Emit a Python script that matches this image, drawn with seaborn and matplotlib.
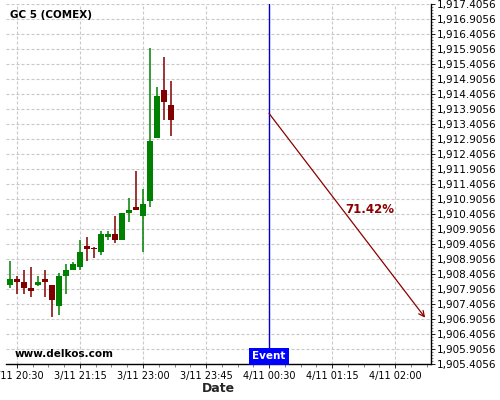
import matplotlib
matplotlib.use("Agg")
import matplotlib.pyplot as plt
import matplotlib.transforms as mtransforms
from matplotlib.ticker import FuncFormatter, FixedLocator, MultipleLocator
import seaborn as sns
import numpy as np
import pandas as pd

# ---- data -------------------------------------------------------------
times = ["3/11 20:25", "3/11 20:30", "3/11 20:35", "3/11 20:40", "3/11 20:45",
         "3/11 20:50", "3/11 20:55", "3/11 21:00", "3/11 21:05", "3/11 21:10",
         "3/11 21:15", "3/11 21:20", "3/11 21:25", "3/11 22:20", "3/11 22:25",
         "3/11 22:30", "3/11 22:35", "3/11 22:40", "3/11 22:45", "3/11 23:00",
         "3/11 23:05", "3/11 23:10", "3/11 23:15", "3/11 23:20"]
opens  = [1908.05, 1908.24, 1908.14, 1907.95, 1908.05, 1908.24, 1908.04, 1907.35,
          1908.35, 1908.55, 1908.65, 1909.34, 1909.27, 1909.15, 1909.64, 1909.74,
          1909.54, 1910.44, 1910.64, 1910.35, 1910.84, 1912.95, 1914.54, 1914.04]
highs  = [1908.84, 1908.33, 1908.54, 1908.63, 1908.33, 1908.53, 1908.04, 1908.43,
          1908.73, 1908.82, 1909.53, 1909.63, 1909.32, 1909.84, 1909.84, 1910.34,
          1910.44, 1910.94, 1911.83, 1911.23, 1915.93, 1914.63, 1915.63, 1914.83]
lows   = [1907.93, 1907.73, 1907.73, 1907.63, 1908.02, 1907.63, 1906.97, 1907.04,
          1907.73, 1908.54, 1908.54, 1908.83, 1908.93, 1909.03, 1909.54, 1909.44,
          1909.54, 1910.13, 1910.54, 1909.14, 1910.65, 1912.95, 1913.53, 1913.02]
closes = [1908.24, 1908.15, 1907.95, 1907.85, 1908.14, 1908.15, 1907.55, 1908.34,
          1908.54, 1908.74, 1909.14, 1909.25, 1909.24, 1909.74, 1909.74, 1909.54,
          1910.44, 1910.54, 1910.54, 1910.74, 1912.84, 1914.34, 1914.15, 1913.55]

tick_positions = [1, 10, 19, 28, 37, 46, 55]
tick_labels = ["3/11 20:30", "3/11 21:15", "3/11 23:00", "3/11 23:45",
               "4/11 00:30", "4/11 01:15", "4/11 02:00"]

event_index = 37
arrow_start = (37, 1913.76)
arrow_end = (59.3, 1906.95)
prob_label = "71.42%"
prob_pos = (51.4, 1910.57)

y_min, y_max = 1905.4056, 1917.4056

df = pd.DataFrame({"time": times, "open": opens, "high": highs,
                   "low": lows, "close": closes})
df["idx"] = np.arange(len(df))

# ---- style ------------------------------------------------------------
sns.set_theme(style="white")
plt.rcParams["font.family"] = ["DejaVu Sans"]

GREEN = "#008000"
RED = "#800000"

fig = plt.figure(figsize=(5, 4), dpi=100)
ax = fig.add_axes([0.012, 0.09, 0.85, 0.90])

# wicks
up = df["close"] >= df["open"]
df["color"] = np.where(up, GREEN, RED)
ax.vlines(df["idx"], df["low"], df["high"], colors=df["color"], lw=1.1, zorder=3)
# bodies
body_bottom = df[["open", "close"]].min(axis=1)
body_h = (df["close"] - df["open"]).abs().clip(lower=0.03)
ax.bar(df["idx"], body_h, bottom=body_bottom, width=0.72,
       color=df["color"], linewidth=0, zorder=4)

# axes limits
ax.set_xlim(-0.57, 60.14)
ax.set_ylim(y_min, y_max)

# y axis on the right
ax.yaxis.tick_right()
ax.yaxis.set_major_locator(FixedLocator(np.arange(y_min, y_max + 0.01, 0.5)))
ax.yaxis.set_minor_locator(FixedLocator(np.arange(y_min, y_max + 0.01, 0.1)))
ax.yaxis.set_major_formatter(FuncFormatter(lambda v, p: f"{v:,.4f}"))
ax.tick_params(axis="y", which="major", direction="out", length=3, width=0.6,
               labelsize=7.5, pad=1, colors="black", right=True, left=False)
ax.tick_params(axis="y", which="minor", direction="out", length=1.5, width=0.5,
               right=True, left=False, colors="#555555")

# x axis
ax.xaxis.set_major_locator(FixedLocator(tick_positions))
ax.set_xticklabels(tick_labels)
ax.xaxis.set_minor_locator(FixedLocator(np.arange(1, 61, 2.25)))
ax.tick_params(axis="x", which="major", direction="out", length=3, width=0.6,
               labelsize=7, pad=2, colors="black", bottom=True)
ax.tick_params(axis="x", which="minor", direction="out", length=2, width=0.5,
               bottom=True, colors="#555555")
ax.set_xlabel("Date", fontsize=9, fontweight="bold", labelpad=1)
ax.set_ylabel("")

# spines
for s in ["left", "top"]:
    ax.spines[s].set_visible(False)
for s in ["right", "bottom"]:
    ax.spines[s].set_visible(True)
    ax.spines[s].set_color("black")
    ax.spines[s].set_linewidth(1.0)

# grid
ax.grid(True, which="major", axis="both", color="#c8c8c8",
        linestyle=(0, (2.7, 1.8)), linewidth=0.8)
ax.set_axisbelow(True)

# event line and label
ax.axvline(event_index, color="#0000cc", lw=1.0, zorder=5)
trans = mtransforms.blended_transform_factory(ax.transData, ax.transAxes)
ax.text(event_index, 0.021, "Event", transform=trans, ha="center", va="center",
        color="white", fontsize=7.5, fontweight="bold", zorder=6,
        bbox=dict(boxstyle="square,pad=0.3", fc="#0000ff", ec="none"))

# arrow and probability
ax.annotate("", xy=arrow_end, xytext=arrow_start,
            arrowprops=dict(arrowstyle="->", color="#8b0000", lw=0.9,
                            shrinkA=0, shrinkB=0, mutation_scale=10), zorder=6)
ax.text(prob_pos[0], prob_pos[1], prob_label, ha="center", va="center",
        color="#8b0000", fontsize=8.5, fontweight="bold", zorder=6)

# titles / watermark
ax.text(0.0094, 0.969, "GC 5 (COMEX)", transform=ax.transAxes, ha="left",
        va="center", fontsize=7.5, fontweight="bold", color="black")
ax.text(0.021, 0.028, "www.delkos.com", transform=ax.transAxes, ha="left",
        va="center", fontsize=7.5, fontweight="bold", color="black")

fig.savefig("out.png", dpi=100)
